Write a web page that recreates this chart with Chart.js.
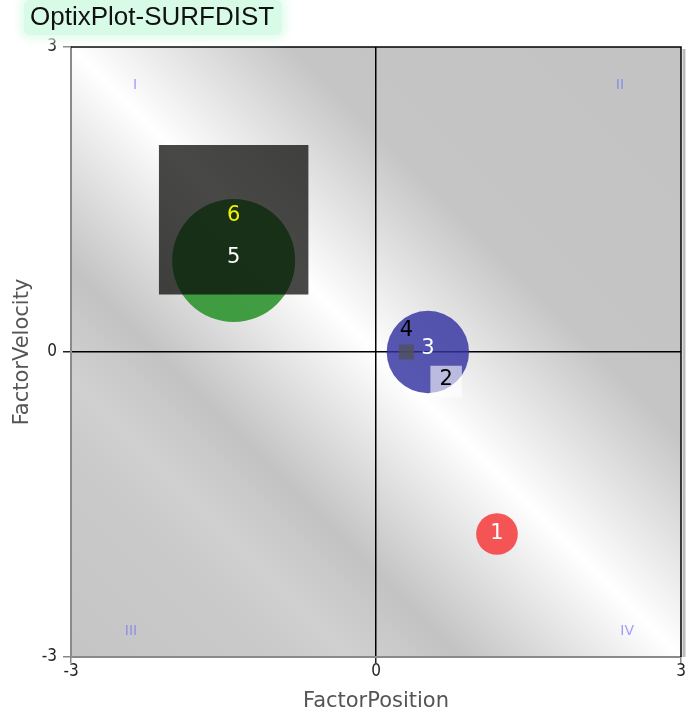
<!DOCTYPE html>
<html>
<head>
<meta charset="utf-8">
<title>OptixPlot-SURFDIST</title>
<script src="https://cdn.jsdelivr.net/npm/chart.js@4.4.0/dist/chart.umd.min.js"></script>
<style>
html, body { margin: 0; padding: 0; background: #fff; }
#wrap { position: relative; width: 697px; height: 715px; }
#title {
    position: absolute; left: 24px; top: 0; z-index: 2;
    padding: 1px 8px 3px 6px; line-height: 29px;
    font: 26px "Liberation Sans", Arial, sans-serif; color: #111;
    background: #d8fbe8; border-radius: 6px;
    box-shadow: 0 0 8px 5px #e6fcf0;
}
canvas { position: absolute; left: 0; top: 0; }
</style>
</head>
<body>
<div id="wrap">
    <div id="title">OptixPlot-SURFDIST</div>
    <canvas id="chart" width="697" height="715"></canvas>
</div>
<script>
/* data */
const ids = ['1', '2', '3', '4', '5', '6'];
const posX = [1.19, 0.69, 0.51, 0.30, -1.40, -1.40];
const posY = [-1.79, -0.29, 0.00, 0.00, 0.90, 1.30];
const sizes = [0.41, 0.31, 0.81, 0.15, 1.21, 1.47];   // diameter / side, in axis units
const shapes = ['circle', 'rect', 'circle', 'rect', 'circle', 'rect'];

const xTicks = [-3, 0, 3];
const yTicks = [-3, 0, 3];
const quadrants = ['I', 'II', 'III', 'IV'];
const quadX = [-2.37, 2.40, -2.41, 2.47];
const quadY = [2.62, 2.62, -2.75, -2.75];

/* styles */
const fillColors = ['rgba(245,70,70,0.92)', 'rgba(255,255,255,0.6)', 'rgba(50,50,160,0.82)',
                    'rgba(80,80,92,0.8)', 'rgba(50,150,50,0.92)', 'rgba(11,11,9,0.75)'];
const labelColors = ['#fff', '#000', '#fff', '#000', '#fff', '#f2f200'];
const labelDy = [0, -2, -3, -21, -3, -4];
const labelFont = '21px "DejaVu Sans", sans-serif';
const tickFont = {family: '"DejaVu Sans Condensed", "DejaVu Sans", sans-serif', size: 17, lineHeight: 1};

const circIdx = ids.map((d, i) => i).filter(i => shapes[i] == 'circle');
const rectIdx = ids.map((d, i) => i).filter(i => shapes[i] == 'rect');

function pxPerUnit(chart) {
    var s = chart.scales.x;
    return Math.abs(s.getPixelForValue(1) - s.getPixelForValue(0));
}

const bgPlugin = {
    id: 'surfBg',
    beforeDraw(chart) {
        var a = chart.chartArea, ctx = chart.ctx;
        var g = ctx.createLinearGradient(a.left, a.bottom, a.right, a.top);
        g.addColorStop(0, '#c5c5c5');
        g.addColorStop(0.16, '#c9c9c9');
        g.addColorStop(0.23, '#d0d0d0');
        g.addColorStop(0.32, '#c3c3c3');
        g.addColorStop(0.5, '#ffffff');
        g.addColorStop(0.68, '#c5c5c5');
        g.addColorStop(1, '#c3c3c3');
        ctx.save();
        ctx.fillStyle = g;
        ctx.fillRect(a.left, a.top, a.right - a.left, a.bottom - a.top);
        ctx.restore();
    }
};

const labelPlugin = {
    id: 'surfLabels',
    afterDatasetsDraw(chart) {
        var a = chart.chartArea, ctx = chart.ctx;
        var sx = chart.scales.x, sy = chart.scales.y;
        ctx.save();
        // frame: top and right edges
        ctx.strokeStyle = '#bbb';
        ctx.lineWidth = 3;
        ctx.beginPath();
        ctx.moveTo(a.right + 3, a.top + 2);
        ctx.lineTo(a.right + 3, a.bottom);
        ctx.stroke();
        ctx.strokeStyle = '#000';
        ctx.lineWidth = 1.5;
        ctx.beginPath();
        ctx.moveTo(a.left, a.top);
        ctx.lineTo(a.right, a.top);
        ctx.lineTo(a.right, a.bottom);
        ctx.stroke();
        // quadrant marks
        ctx.font = '14px "DejaVu Sans", sans-serif';
        ctx.fillStyle = 'rgba(110,110,250,0.65)';
        ctx.textAlign = 'center';
        ctx.textBaseline = 'middle';
        for (var q = 0; q < quadrants.length; q++) {
            ctx.fillText(quadrants[q], sx.getPixelForValue(quadX[q]), sy.getPixelForValue(quadY[q]));
        }
        // shape ids
        ctx.font = labelFont;
        for (var i = 0; i < ids.length; i++) {
            ctx.fillStyle = labelColors[i];
            ctx.fillText(ids[i], sx.getPixelForValue(posX[i]), sy.getPixelForValue(posY[i]) + labelDy[i]);
        }
        ctx.restore();
    }
};

function axis(ticks, title, isX) {
    return {
        type: 'linear',
        min: -3,
        max: 3,
        afterBuildTicks: function (s) { s.ticks = ticks.map(v => ({value: v})); },
        afterFit: function (s) { if (isX) { s.height = 58; } else { s.width = 71; } },
        grid: {
            color: c => (c.tick && c.tick.value === 0) ? '#000' : 'rgba(0,0,0,0)',
            lineWidth: 1.5,
            tickColor: c => (c.tick && c.tick.value === 0) ? '#222' : '#888',
            tickLength: isX ? 6 : 8
        },
        border: {color: '#8a8a8a', width: 2},
        ticks: {
            font: tickFont,
            color: '#222',
            padding: isX ? 0 : 6,
            callback: v => String(v)
        },
        title: {
            display: true,
            text: title,
            font: {family: '"DejaVu Sans", sans-serif', size: 21},
            color: '#555',
            padding: isX ? {top: 0, bottom: 1} : {top: 10, bottom: 0}
        }
    };
}

new Chart(document.getElementById('chart'), {
    type: 'scatter',
    data: {
        datasets: [{
            label: 'circles',
            order: 2,
            data: circIdx.map(i => ({x: posX[i], y: posY[i]})),
            pointStyle: 'circle',
            pointRadius: c => sizes[circIdx[c.dataIndex]] / 2 * pxPerUnit(c.chart),
            backgroundColor: c => fillColors[circIdx[c.dataIndex]],
            borderWidth: 0
        }, {
            label: 'squares',
            order: 1,
            data: rectIdx.map(i => ({x: posX[i], y: posY[i]})),
            pointStyle: 'rect',
            pointRadius: c => sizes[rectIdx[c.dataIndex]] / 2 * Math.SQRT2 * pxPerUnit(c.chart),
            backgroundColor: c => fillColors[rectIdx[c.dataIndex]],
            borderWidth: 0
        }]
    },
    options: {
        responsive: false,
        animation: false,
        events: [],
        layout: {padding: {top: 47, right: 16, left: 0, bottom: 0}},
        plugins: {legend: {display: false}, tooltip: {enabled: false}},
        scales: {
            x: axis(xTicks, 'FactorPosition', true),
            y: axis(yTicks, 'FactorVelocity', false)
        }
    },
    plugins: [bgPlugin, labelPlugin]
});
</script>
</body>
</html>
